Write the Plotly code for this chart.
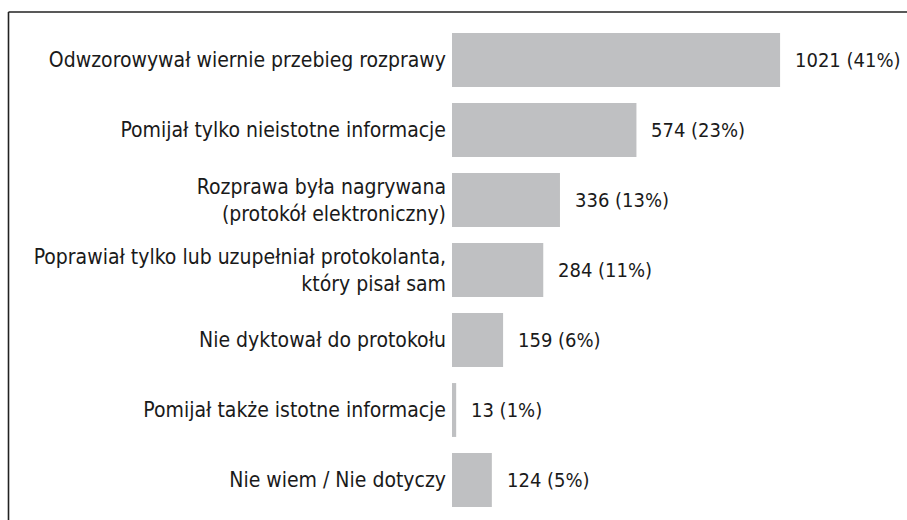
import plotly.graph_objects as go

# Survey answers (top to bottom) with counts and shares
categories = [
    "Odwzorowywał wiernie przebieg rozprawy",
    "Pomijał tylko nieistotne informacje",
    "Rozprawa była nagrywana<br>(protokół elektroniczny)",
    "Poprawiał tylko lub uzupełniał protokolanta,<br>który pisał sam",
    "Nie dyktował do protokołu",
    "Pomijał także istotne informacje",
    "Nie wiem / Nie dotyczy",
]
counts = [1021, 574, 336, 284, 159, 13, 124]
shares = [41, 23, 13, 11, 6, 1, 5]

FONT = "DejaVu Sans Condensed"
BAR_COLOR = "#bfc0c2"
INK = "#1a1a1a"

W, H = 907, 520
ML, MR, MT, MB = 452, 0, 25, 5
plot_w = W - ML - MR
plot_h = H - MT - MB

fig = go.Figure(
    go.Bar(
        x=counts,
        y=categories,
        orientation="h",
        marker=dict(color=BAR_COLOR, line=dict(width=0)),
        hoverinfo="skip",
    )
)

# value labels to the right of each bar
for cat, n, p in zip(categories, counts, shares):
    fig.add_annotation(
        x=n, y=cat, text=f"{n} ({p}%)",
        xanchor="left", yanchor="middle", xshift=13,
        showarrow=False, font=dict(family=FONT, size=20, color=INK),
    )

# frame lines along the top and left edges
top_y = (H - MB - 12) / plot_h
left_x = (8.5 - ML) / plot_w
bottom_y = (H - MB - H) / plot_h - 0.01
fig.add_shape(type="line", xref="paper", yref="paper",
              x0=left_x, x1=1.01, y0=top_y, y1=top_y,
              line=dict(color="#222222", width=1.6))
fig.add_shape(type="line", xref="paper", yref="paper",
              x0=left_x, x1=left_x, y0=top_y, y1=bottom_y,
              line=dict(color="#222222", width=1.6))

fig.update_layout(
    width=W, height=H,
    margin=dict(l=ML, r=MR, t=MT, b=MB),
    paper_bgcolor="white", plot_bgcolor="white",
    bargap=0.23,
    showlegend=False,
    font=dict(family=FONT, size=21, color=INK),
    xaxis=dict(range=[0, 1416], visible=False, fixedrange=True),
    yaxis=dict(
        autorange="reversed", showgrid=False, zeroline=False,
        showline=False, ticks="", ticklabelstandoff=5,
        tickfont=dict(family=FONT, size=21, color=INK), fixedrange=True,
    ),
)

fig.write_html("out.html", config={"displayModeBar": False})
